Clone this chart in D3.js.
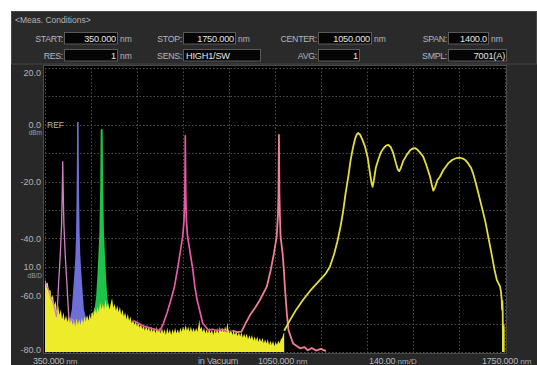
<!DOCTYPE html>
<html><head><meta charset="utf-8">
<script src="https://cdn.jsdelivr.net/npm/d3@7"></script>
<style>
body{margin:0;background:#fff;}
svg{display:block;font-family:"Liberation Sans","DejaVu Sans",Arial,sans-serif;}
</style>
</head><body>
<svg id="c" width="537" height="365"></svg>
<script>
// ---------------- DATA ----------------
const xStart = 350, xStop = 1750;          // nm
const yTop = 20, yBottom = -80;            // dBm
const yTickValues = [20, 0, -20, -40, -60, -80];
const yTickLabels = ["20.0", "0.0", "-20.0", "-40.0", "-60.0", "-80.0"];

const headerFields = [
  {label:"START:",  value:"350.000",  unit:"nm"},
  {label:"STOP:",   value:"1750.000", unit:"nm"},
  {label:"CENTER:", value:"1050.000", unit:"nm"},
  {label:"SPAN:",   value:"1400.0",   unit:"nm"},
  {label:"RES:",    value:"1",        unit:"nm"},
  {label:"SENS:",   value:"HIGH1/SW", unit:""},
  {label:"AVG:",    value:"1",        unit:""},
  {label:"SMPL:",   value:"7001(A)",  unit:""}
];
const bottomLabels = ["350.000", "in Vacuum", "1050.000", "140.00", "1750.000"];

// yellow broadband trace: noise floor (filled)
const yellowNoise = [
[350,-54.5],[354,-56],[358,-55.5],[362,-58.5],[366,-58],[370,-61],[374,-60],[378,-63.5],[382,-62],[386,-65.5],
[390,-63.5],[394,-67],[398,-65],[402,-68.5],[406,-66],[410,-69],[414,-67],[418,-69.5],[422,-67],[426,-70],
[430,-68],[434,-70.5],[438,-68.5],[442,-71],[446,-68],[450,-70.5],[454,-68.5],[458,-70.5],[462,-68],[466,-70],
[470,-67.5],[474,-69.5],[478,-67],[482,-69],[486,-66.5],[490,-68.5],[494,-66],[498,-67.5],[502,-64.5],[506,-66.5],
[510,-64],[514,-66],[518,-62.5],[522,-65],[526,-63],[530,-65],[534,-61.5],[538,-64.5],[542,-62.5],[546,-65],
[550,-63],[554,-61],[558,-64.5],[562,-63],[566,-65.5],[570,-63.5],[574,-66],[578,-64],[582,-67],[586,-65],
[590,-67.5],[594,-66],[598,-68.5],[602,-66.5],[606,-69],[610,-67.5],[614,-70],[618,-68.5],[622,-70.5],[626,-69],
[630,-71],[634,-69.5],[638,-71.5],[642,-70],[646,-72],[650,-70.5],[654,-72.5],[658,-70.5],[662,-72.5],[666,-71],
[670,-73],[674,-71],[678,-73],[682,-71.5],[686,-73.5],[690,-71],[694,-73],[698,-71.5],[702,-73.5],[706,-71.5],
[710,-73.5],[714,-72],[718,-74],[722,-71.5],[726,-73.5],[730,-72],[734,-74],[738,-72],[742,-73.5],[746,-71.5],
[750,-73.5],[754,-72],[758,-73.5],[762,-71.5],[766,-73],[770,-71],[774,-72.5],[778,-70.5],[782,-72.5],[786,-71],
[790,-73],[794,-71],[798,-73],[802,-71.5],[806,-73],[810,-71.5],[814,-73],[818,-70],[820,-68.5],[822,-72],
[826,-71],[830,-73],[834,-71.5],[838,-73.5],[842,-72],[846,-73.5],[850,-71.5],[854,-73.5],[858,-72],[862,-74],
[866,-72],[870,-73.5],[874,-71.5],[878,-73.5],[882,-71],[886,-73],[890,-71.5],[894,-73],[898,-71],[902,-72.5],
[905,-69.5],[908,-72],[912,-73.5],[916,-72],[920,-74],[924,-72.5],[928,-74],[932,-72.5],[936,-74.5],[940,-73],
[944,-74.5],[948,-73],[952,-75],[956,-73.5],[960,-75],[964,-73.5],[968,-75.5],[972,-74],[976,-75.5],[980,-74],
[984,-76],[988,-74.5],[992,-76],[996,-74.5],[1000,-76.5],[1004,-75],[1008,-76.5],[1012,-75],[1016,-77],[1020,-75.5],
[1024,-77],[1028,-75.5],[1032,-77.5],[1036,-76],[1040,-77.5],[1044,-76],[1048,-78],[1052,-76.5],[1056,-77.5],[1060,-76],
[1064,-77],[1068,-75.5],[1072,-75],[1076,-73.5],[1078,-73]
];
// yellow broadband trace: main curve
const yellowTrace = [
[1078,-72.5],[1096,-68.7],[1115,-65],[1135,-61.7],[1160,-58],[1187,-54.6],[1205,-52.3],[1217,-50],[1230,-45.5],
[1240,-41],[1250,-35.5],[1258,-30],[1265,-24],[1273,-18.3],[1280,-12.5],[1288,-7.7],[1294,-4.8],[1299,-3.4],
[1303,-2.9],[1309,-3.5],[1316,-5.2],[1324,-7.7],[1332,-11.5],[1339,-17],[1344,-20.5],[1347,-21.8],[1351,-19.5],
[1357,-15],[1364,-12.4],[1372,-9.8],[1380,-8.3],[1388,-7.3],[1395,-7.1],[1402,-7.8],[1410,-10],[1418,-13.5],
[1424,-15.8],[1428,-16.3],[1433,-15.2],[1440,-12.8],[1451,-10.6],[1462,-8.9],[1470,-8.3],[1476,-8.2],[1484,-8.8],
[1493,-10],[1501,-11.2],[1510,-14],[1517,-16.5],[1522,-18.3],[1527,-21],[1532,-23.2],[1537,-22],[1544,-19.5],
[1552,-18.3],[1562,-16],[1577,-13.6],[1590,-12.3],[1603,-11.7],[1613,-11.6],[1622,-11.9],[1630,-12.5],[1638,-13.6],
[1646,-15],[1653,-17.1],[1661,-20.5],[1669,-24.1],[1679,-28.8],[1690,-34],[1700,-40],[1710,-46],[1718,-51],
[1725,-54.6],[1731,-56],[1735,-57],[1738,-59],[1740,-61.7],[1741,-65],[1742,-62],[1743,-66],[1744,-80]
];
const yellowTail = [[1741,-68],[1742,-70],[1744,-69],[1746,-71],[1748,-70],[1749,-72]];

// laser peaks
const peak1 = [ // ~404 nm
[350,-55],[356,-57],[362,-58.5],[368,-61],[374,-62.5],[380,-65],[385,-67.5],[388,-64],[391.3,-56],[396.4,-46],
[400.5,-35],[402.8,-22],[404,-13],[405.2,-22],[407.5,-35],[411.6,-46],[416.7,-56],[420,-63],[423,-68.5],[428,-69],
[434,-68.5],[440,-70]
];
const peak2 = [ // ~450 nm
[420,-68],[428,-68.5],[434,-65],[438,-58.5],[442,-52],[445,-46],[447,-38],[448.6,-25],[449.6,-10],[450,1],
[450.4,-10],[451.4,-25],[453,-38],[455,-46],[458,-52],[462,-58.5],[466,-65],[472,-68],[480,-68]
];
const peak3 = [ // ~522 nm
[490,-67],[500,-66],[505,-64],[509,-60],[514,-50],[518.5,-38],[521,-22],[522,-8],[522.5,-1.6],[523,-8],
[524,-22],[526.5,-38],[531,-50],[536,-60],[540,-64],[545,-66],[555,-66]
];
const peak4 = [ // ~777 nm
[620,-69],[636,-70],[652,-71],[668,-71.5],[684,-72],[700,-72.5],[710,-70],[722,-66],[733,-61.7],[744,-57],
[753,-51.1],[761,-45.2],[769,-39.4],[773,-34],[775.5,-25],[776.8,-10],[777,-3.9],[777.3,-10],[778.5,-25],
[780.5,-34],[784,-39.4],[792,-45.2],[800,-51.1],[806,-57],[813,-61.7],[822,-66],[830,-69.9],[847,-72.3],
[860,-72],[875,-72.5],[890,-72],[905,-73]
];
const peak5 = [ // ~1062 nm
[920,-72.5],[935,-73],[948,-72.8],[960,-70],[974,-67],[990,-64.3],[1004,-61.7],[1025,-57],[1037,-51.1],
[1047,-45.2],[1055,-39.4],[1059,-32],[1060.6,-24],[1062,-3.6],[1063.4,-24],[1065,-32],[1067,-39.4],[1073,-45.2],
[1077,-51.1],[1080,-57],[1083,-61.7],[1086,-66.4],[1091,-72.3],[1105,-77],[1126,-78.7],[1140,-78.3],
[1150,-79.4],[1162,-78.6],[1175,-79.5],[1190,-78.9],[1205,-79.7]
];

// ---------------- DRAW ----------------
const svg = d3.select("#c");
const L = 45, R = 505, T = 68, B = 352;
const x = d3.scaleLinear([xStart, xStop], [L, R]);
const y = d3.scaleLinear([yBottom, yTop], [B, T]);

// panel
svg.append("rect").attr("x",11).attr("y",11).attr("width",526).attr("height",354).attr("fill","#282828");
// header box
svg.append("rect").attr("x",11.5).attr("y",11.5).attr("width",525).attr("height",52.5)
  .attr("fill","#2a2a2a").attr("stroke","#474747");
svg.append("text").attr("x",15).attr("y",23).attr("font-size",8.5).attr("fill","#b4b4b4").text("<Meas. Conditions>");

const boxes = [
  {bx:64, bw:53, by:32, lx:63},{bx:183, bw:52, by:32, lx:182},{bx:318, bw:53, by:32, lx:317},{bx:448, bw:40, by:32, lx:447},
  {bx:64, bw:53, by:49, lx:63},{bx:183, bw:77, by:49, lx:182, left:true},{bx:318, bw:41, by:49, lx:317},{bx:448, bw:58, by:49, lx:447}
];
headerFields.forEach((f,i)=>{
  const b = boxes[i];
  const g = svg.append("g");
  g.append("rect").attr("x",b.bx+0.5).attr("y",b.by+0.5).attr("width",b.bw).attr("height",11.5)
    .attr("fill","#050505").attr("stroke","#5a5a5a");
  const ty = b.by + 9.5;
  g.append("text").attr("x",b.lx).attr("y",ty).attr("text-anchor","end").attr("font-size",8.8)
    .attr("fill","#aeb6c0").attr("letter-spacing",-0.3).text(f.label);
  g.append("text").attr("x", b.left ? b.bx+3 : b.bx+b.bw-1).attr("y",ty)
    .attr("text-anchor", b.left ? "start" : "end").attr("font-size",9.2).attr("fill","#e6e6e6")
    .attr("letter-spacing",-0.2).text(f.value);
  if (f.unit) g.append("text").attr("x",b.bx+b.bw+3).attr("y",ty).attr("font-size",8.5)
    .attr("fill","#aeb6c0").text(f.unit);
});

// plot area
svg.append("rect").attr("x",L-1.5).attr("y",T-2.5).attr("width",R-L+3).attr("height",B-T+4)
  .attr("fill","#000").attr("stroke","#4a4a4a").attr("stroke-width",1);
const defs = svg.append("defs");
defs.append("clipPath").attr("id","clip").append("rect").attr("x",L).attr("y",T).attr("width",R-L).attr("height",B-T);

// grid
const grid = svg.append("g").attr("stroke","#505050").attr("stroke-width",1).attr("stroke-dasharray","1.5,2");
grid.selectAll("line.v").data(d3.range(xStart, xStop+1, 140)).join("line")
  .attr("x1",d=>Math.round(x(d))+0.5).attr("x2",d=>Math.round(x(d))+0.5).attr("y1",T).attr("y2",B);
grid.selectAll("line.h").data(d3.range(yBottom, yTop+1, 10)).join("line")
  .attr("x1",L).attr("x2",R).attr("y1",d=>Math.round(y(d))+0.5).attr("y2",d=>Math.round(y(d))+0.5);

const plot = svg.append("g").attr("clip-path","url(#clip)");
const line = d3.line().x(d=>x(d[0])).y(d=>y(d[1]));
const area = d3.area().x(d=>x(d[0])).y0(y(yBottom)).y1(d=>y(d[1]));

const cYellow = "#eeec2a", cYellowLine = "#e4de3c";
const c1 = "#cf80c4", c2 = "#6f6fd8", c3 = "#1ec34a", c4 = "#e65aa8", c5 = "#f07e94";

// blue and green (dense, filled)
plot.append("path").datum(peak2).attr("d",area).attr("fill",c2);
plot.append("path").datum(peak2).attr("d",line).attr("fill","none").attr("stroke",c2).attr("stroke-width",1.6);
plot.append("path").datum(peak3).attr("d",area).attr("fill",c3);
plot.append("path").datum(peak3).attr("d",line).attr("fill","none").attr("stroke",c3).attr("stroke-width",2);

// yellow noise floor
plot.append("path").datum(yellowNoise).attr("d",area).attr("fill",cYellow);
plot.append("path").datum(yellowTail).attr("d",area).attr("fill",cYellow);

// pink peaks
[[peak1,c1,1.3],[peak4,c4,1.7],[peak5,c5,1.8]].forEach(([d,c,w])=>{
  plot.append("path").datum(d).attr("d",line).attr("fill","none").attr("stroke",c)
    .attr("stroke-width",w).attr("stroke-linejoin","round");
});

// yellow main trace
plot.append("path").datum(yellowTrace).attr("d",line).attr("fill","none").attr("stroke",cYellowLine)
  .attr("stroke-width",1.8).attr("stroke-linejoin","round");

// y axis labels
const yAxis = d3.axisLeft(y).tickValues(yTickValues).tickSize(0).tickPadding(3)
  .tickFormat((d,i)=>yTickLabels[i]);
const ya = svg.append("g").attr("transform",`translate(${L-1},0)`).call(yAxis);
ya.select(".domain").remove();
ya.selectAll("text").attr("font-size",9).attr("fill","#b2b2b2").attr("font-family","Liberation Sans, DejaVu Sans, Arial");
ya.selectAll(".tick").filter(d=>d===yTop).select("text").attr("dy","0.8em");
ya.selectAll(".tick").filter(d=>d===yBottom).select("text").attr("dy","0.1em");

svg.append("text").attr("x",L+2).attr("y",y(0)+3).attr("font-size",8.5).attr("fill","#b2b2b2").text("REF");
svg.append("text").attr("x",L-3).attr("y",y(0)+10).attr("text-anchor","end").attr("font-size",6.5).attr("fill","#8fa0b2").text("dBm");
svg.append("text").attr("x",L-4).attr("y",y(-50)+3).attr("text-anchor","end").attr("font-size",9).attr("fill","#b2b2b2").text("10.0");
svg.append("text").attr("x",L-3).attr("y",y(-50)+11).attr("text-anchor","end").attr("font-size",6.5).attr("fill","#8fa0b2").text("dB/D");

// bottom labels
const by = 363.5;
const bl = [
  {t:bottomLabels[0], unit:" nm", px:x(xStart)-12},
  {t:bottomLabels[1], unit:"", px:198},
  {t:bottomLabels[2], unit:" nm", px:x(1050)-17},
  {t:bottomLabels[3], unit:" nm/D", px:369},
  {t:bottomLabels[4], unit:" nm", px:x(xStop)-23}
];
bl.forEach(b=>{
  const t = svg.append("text").attr("x",b.px).attr("y",by).attr("font-size",9).attr("fill","#b8b8b8");
  t.append("tspan").attr("letter-spacing",-0.2).text(b.t);
  if (b.unit) t.append("tspan").attr("font-size",8).attr("fill","#a4b0bc").text(b.unit);
});
</script>
</body></html>
